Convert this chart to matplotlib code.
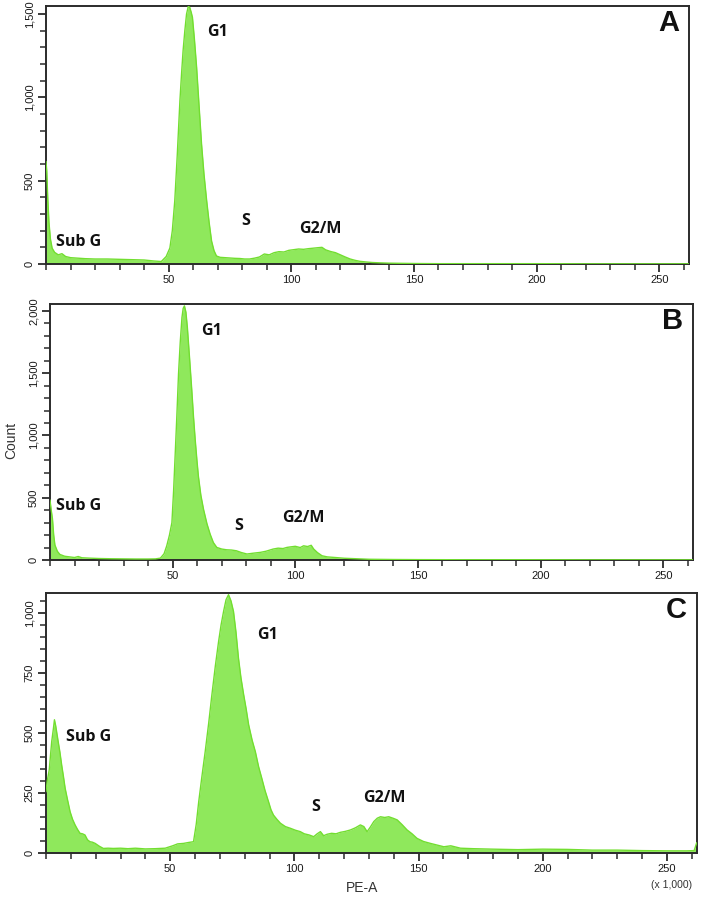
import matplotlib
matplotlib.use("Agg")
import matplotlib.pyplot as plt
from matplotlib.ticker import MultipleLocator, FixedLocator, FuncFormatter

# ---------------- data ----------------
a_x = [0, 0.3, 0.7, 1.2, 1.8, 2.5, 3.5, 5, 6.5, 8,
       10, 13, 16, 20, 25, 30, 35, 40, 44, 47,
       49, 50.5, 51.5, 52.5, 53.5, 54.6, 55.3, 55.9, 56.6, 57.3,
       58.0, 58.6, 59.2, 59.7, 60.5, 61.4, 62.4, 63.4, 64.4, 65.5,
       66.5, 67.5, 68.5, 69.5, 71, 73, 75, 77, 79, 81,
       83, 85, 87, 89, 91, 93, 95, 97, 99, 101,
       103, 105, 107, 109, 111, 112.5, 114, 116, 118, 120,
       122, 124, 126, 128, 130.6, 133, 136, 140, 145, 150,
       160, 180, 200, 220, 262]
a_y = [614, 560, 400, 250, 150, 95, 70, 55, 62, 45,
       38, 35, 32, 30, 30, 28, 26, 24, 18, 15,
       45, 96, 200, 380, 650, 981, 1150, 1282, 1400, 1500,
       1545, 1540, 1510, 1480, 1350, 1180, 950, 722, 540, 380,
       250, 138, 80, 48, 40, 38, 36, 34, 33, 30,
       30, 35, 42, 60, 55, 68, 74, 72, 82, 86,
       90, 88, 92, 95, 98, 100, 85, 75, 68, 55,
       42, 30, 22, 16, 12, 9, 7, 5, 4, 3,
       2, 2, 2, 1, 1]

b_x = [0, 0.5, 1, 1.5, 2, 3, 4, 6, 8, 10,
       11.5, 13, 16, 20, 25, 30, 35, 40, 43, 45,
       46.5, 47.6, 48.7, 49.7, 50.4, 51, 51.7, 52.4, 53.1, 53.8,
       54.3, 54.8, 55.4, 56, 56.9, 57.8, 58.5, 59.2, 59.9, 60.5,
       61.5, 62.6, 64, 65.3, 66.6, 68, 70, 72, 74, 76,
       78, 80.3, 83, 85.7, 88, 91, 93, 95, 96.6, 98,
       100, 102, 103.4, 105, 106.5, 107.5, 109, 110.9, 113, 115.6,
       120, 125, 130, 140, 150, 170, 190, 220, 262]
b_y = [480, 400, 330, 200, 120, 70, 45, 30, 25, 20,
       28, 18, 15, 12, 10, 9, 8, 8, 9, 15,
       50, 114, 200, 300, 560, 831, 1150, 1496, 1750, 1947,
       2020, 2040, 1990, 1867, 1620, 1363, 1150, 964, 800, 672,
       520, 406, 290, 207, 140, 101, 88, 82, 80, 74,
       60, 48, 55, 61, 70, 88, 95, 92, 101, 105,
       110, 100, 114, 108, 118, 88, 60, 34, 25, 21,
       14, 10, 6, 4, 3, 2, 2, 1, 1]

c_x = [0, 0.5, 1.3, 2.3, 3.0, 3.4, 3.9, 4.9, 5.6, 6.3,
       7.0, 7.7, 8.7, 9.7, 10.7, 11.7, 12.7, 13.7, 14.7, 15.7,
       16.7, 17.7, 18.7, 19.8, 21.5, 23.1, 25, 27.1, 30, 33,
       36, 40, 44, 48, 51, 53, 55.4, 57.5, 59.4, 60.5,
       61.5, 62.8, 64.1, 65.5, 66.8, 68.2, 69.5, 70.5, 71.5, 72.5,
       73.5, 74.5, 75.5, 76.5, 77.5, 78.5, 79.6, 80.6, 81.6, 83,
       84.3, 85.6, 86.9, 88.2, 89.6, 90.6, 91.6, 93, 94.4, 96.4,
       98.4, 100.4, 102.4, 104, 106, 107.8, 109.2, 110.5, 111.8, 113.2,
       115, 116.8, 118.5, 120.5, 122.6, 124.6, 126.6, 128, 129.3, 130.6,
       132, 133.4, 134.7, 136.4, 138, 139.7, 141.4, 143.4, 145.4, 147.4,
       149.4, 152, 154.8, 157.5, 160.2, 163, 166.9, 172, 180, 190,
       200, 210, 220, 230, 240, 250, 258, 261, 262]
c_y = [256, 300, 346, 464, 520, 555, 530, 464, 420, 367,
       320, 270, 220, 172, 140, 117, 98, 82, 80, 75,
       55, 47, 45, 40, 28, 19, 20, 19, 20, 18,
       20, 17, 18, 20, 30, 38, 40, 44, 47, 120,
       214, 320, 422, 540, 659, 780, 881, 950, 1006, 1055,
       1076, 1050, 1006, 920, 812, 730, 659, 600, 534, 470,
       422, 360, 311, 260, 214, 180, 158, 140, 124, 110,
       103, 95, 89, 80, 75, 68, 80, 89, 72, 78,
       82, 80, 86, 90, 96, 105, 117, 110, 89, 108,
       131, 145, 151, 148, 151, 145, 138, 118, 96, 80,
       61, 48, 40, 33, 26, 30, 20, 18, 16, 14,
       16, 15, 12, 12, 10, 9, 9, 10, 42]

phase_labels = ["Sub G", "G1", "S", "G2/M"]
a_label_pos = [(4, 135), (65.5, 1390), (79.5, 259), (103, 211)]
b_label_pos = [(2.5, 430), (61.5, 1841), (75, 271), (94.5, 335)]
c_label_pos = [(8, 484), (85, 909), (107, 192), (127.5, 229)]
panel_letters = ["A", "B", "C"]
x_ticks = [50, 100, 150, 200, 250]
a_yticks = [0, 500, 1000, 1500]
b_yticks = [0, 500, 1000, 1500, 2000]
c_yticks = [0, 250, 500, 750, 1000]

# ---------------- style ----------------
W, H = 701, 898
fig = plt.figure(figsize=(W / 100, H / 100), dpi=100)
FILL = "#8FE85C"
EDGE = "#72DE30"
SPINE = "#2b2b2b"

panels = [
    dict(x=a_x, y=a_y, box=(46, 6, 689, 264), ylim=1548, yt=a_yticks, ymin=100,
         labels=a_label_pos, letter=panel_letters[0]),
    dict(x=b_x, y=b_y, box=(50, 304, 693, 560), ylim=2055, yt=b_yticks, ymin=100,
         labels=b_label_pos, letter=panel_letters[1]),
    dict(x=c_x, y=c_y, box=(46, 593, 697, 853), ylim=1083, yt=c_yticks, ymin=50,
         labels=c_label_pos, letter=panel_letters[2]),
]

fmt = FuncFormatter(lambda v, p: f"{int(v):,}")

for p in panels:
    l, t, r, b = p["box"]
    ax = fig.add_axes([l / W, 1 - b / H, (r - l) / W, (b - t) / H])
    ax.fill_between(p["x"], p["y"], 0, color=FILL, lw=0, zorder=2)
    ax.plot(p["x"], p["y"], color=EDGE, lw=1.0, zorder=3)
    ax.set_xlim(0, 262.144)
    ax.set_ylim(0, p["ylim"])
    ax.xaxis.set_major_locator(FixedLocator(x_ticks))
    ax.xaxis.set_minor_locator(MultipleLocator(10))
    ax.yaxis.set_major_locator(FixedLocator(p["yt"]))
    ax.yaxis.set_minor_locator(MultipleLocator(p["ymin"]))
    ax.yaxis.set_major_formatter(fmt)
    for s in ax.spines.values():
        s.set_color(SPINE)
        s.set_linewidth(1.4)
    ax.tick_params(which="major", direction="out", length=6, width=1.3,
                   color=SPINE, labelsize=8, labelcolor="#1a1a1a", pad=2)
    ax.tick_params(which="minor", direction="out", length=4, width=1.1, color=SPINE)
    for lab in ax.get_yticklabels():
        lab.set_rotation(90)
        lab.set_va("center")
        lab.set_fontfamily("Liberation Sans")
    for lab in ax.get_xticklabels():
        lab.set_fontfamily("Liberation Sans")
    for name, (tx, ty) in zip(phase_labels, p["labels"]):
        ax.text(tx, ty, name, fontsize=11.5, fontweight="bold", family="Open Sans",
                ha="left", va="center", color="#111111", zorder=5)
    ax.text(0.985, 0.935, p["letter"], transform=ax.transAxes, fontsize=21,
            fontweight="bold", family="Liberation Sans", ha="right", va="center",
            color="#111111")

fig.text(11 / W, 1 - 440 / H, "Count", rotation=90, ha="center", va="center",
         fontsize=10, family="Liberation Sans", color="#333333")
fig.text(362 / W, 1 - 888 / H, "PE-A", ha="center", va="center",
         fontsize=10, family="Liberation Sans", color="#333333")
fig.text(672 / W, 1 - 885 / H, "(x 1,000)", ha="center", va="center",
         fontsize=7.5, family="Liberation Sans", color="#333333")

fig.savefig("out.png", dpi=100)
